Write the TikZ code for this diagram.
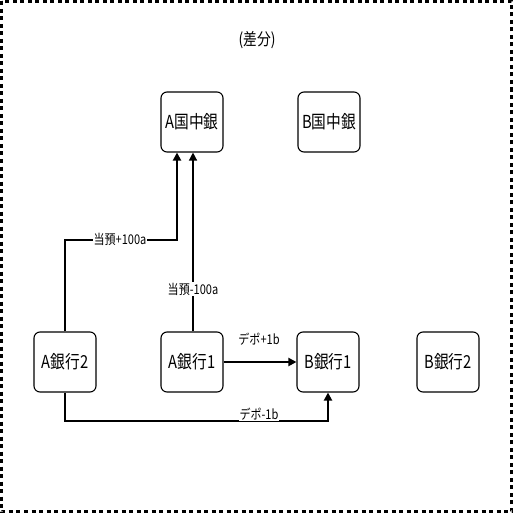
\documentclass[tikz,border=0pt]{standalone}
\usepackage{fontspec}
\setmainfont{Noto Sans CJK JP}
\usetikzlibrary{arrows.meta}
\newcommand{\tallt}[1]{\scalebox{0.92}[1.12]{#1}}
\begin{document}
\begin{tikzpicture}[x=1pt,y=-1pt,
  box/.style={draw,rounded corners=6pt,line width=1.1pt,minimum width=62pt,minimum height=60pt,inner sep=0pt,font=\fontsize{16}{16}\selectfont},
  conn/.style={line width=2.2pt,-{Triangle[length=8pt,width=8pt]}},
  lbl/.style={fill=white,inner sep=1pt,font=\fontsize{12}{12}\selectfont}]
\useasboundingbox (0,0) rectangle (513,513);
\draw[line width=2.2pt,dash pattern=on 4pt off 3.5pt] (1.5,1.5) rectangle (511.5,511.5);
\node[font=\fontsize{15}{15}\selectfont] (title) at (257,40) {\tallt{(差分)}};
\node[box] (acb) at (192,122) {\tallt{A国中銀}};
\node[box] (bcb) at (329,122) {\tallt{B国中銀}};
\node[box] (ab2) at (65,362) {\tallt{A銀行2}};
\node[box] (ab1) at (192,362) {\tallt{A銀行1}};
\node[box] (bb1) at (328,362) {\tallt{B銀行1}};
\node[box] (bb2) at (448,362) {\tallt{B銀行2}};
\coordinate (c1) at (65,240);
\coordinate (c2) at (177,240);
\coordinate (c3) at (65,421);
\coordinate (c4) at (328,421);
\draw[conn] (ab2.north) -- (c1) -- (c2) -- (acb.south -| c2);
\node[lbl] (l1) at (120,239) {\tallt{当預+100a}};
\draw[line width=1.3pt,-{Triangle[length=8pt,width=8pt]}] (ab1.north -| 193,0) -- (acb.south -| 193,0);
\node[lbl] (l2) at (193,289) {\tallt{当預-100a}};
\draw[conn] (ab1.east) -- (bb1.west);
\node[lbl] (l3) at (259,339) {\tallt{デポ+1b}};
\draw[conn] (ab2.south) -- (c3) -- (c4) -- (bb1.south);
\node[lbl] (l4) at (259,414) {\tallt{デポ-1b}};
\end{tikzpicture}
\end{document}
